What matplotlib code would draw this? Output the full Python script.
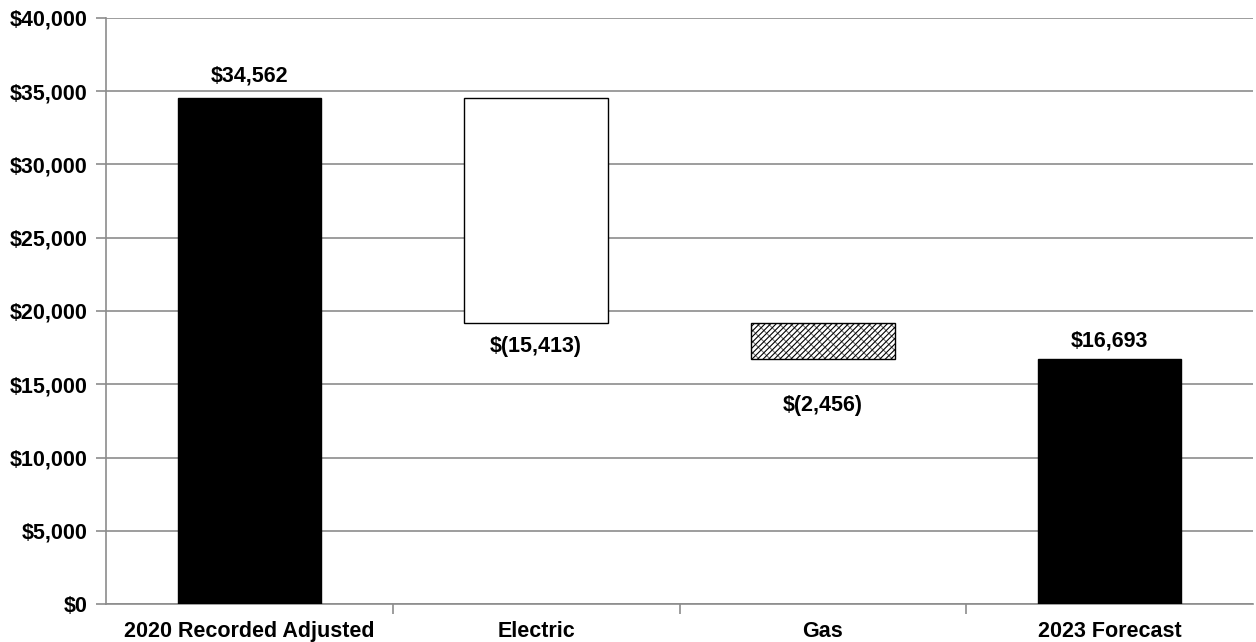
import matplotlib
matplotlib.use("Agg")
import matplotlib.pyplot as plt
from matplotlib.ticker import FuncFormatter, MultipleLocator
import numpy as np

plt.rcParams['font.family'] = ['Liberation Sans', 'DejaVu Sans']
plt.rcParams['hatch.linewidth'] = 0.8

categories = ["2020 Recorded Adjusted", "Electric", "Gas", "2023 Forecast"]
changes = [34562, -15413, -2456, 16693]
kinds = ["total", "delta", "delta", "total"]
labels = ["$34,562", "$(15,413)", "$(2,456)", "$16,693"]
# baseline offset of each value label from its bar edge, in pixels
label_offsets_px = [16, -29, -52, 13]

DPI = 100
fig = plt.figure(figsize=(12.56, 6.42), dpi=DPI)
ax = fig.add_axes([106/1256, 1 - 604/642, (1253-106)/1256, (604-18)/642])

FS = 15.5
x = np.arange(len(categories))
running = 0
for i, (v, k, lab) in enumerate(zip(changes, kinds, labels)):
    if k == "total":
        bottom, height = 0, v
        running = v
        ax.bar(x[i], height, bottom=bottom, width=0.5, color="black",
               edgecolor="black", linewidth=1.0, zorder=3)
    else:
        bottom, height = running + v, -v
        running = running + v
        if i == 1:
            ax.bar(x[i], height, bottom=bottom, width=0.5, color="white",
                   edgecolor="black", linewidth=1.0, zorder=3)
        else:
            ax.bar(x[i], height, bottom=bottom, width=0.5, color="white",
                   edgecolor="#777777", linewidth=0, hatch="\\\\\\", zorder=3)
            ax.bar(x[i], height, bottom=bottom, width=0.5, color="none",
                   edgecolor="black", linewidth=0, hatch="//////", zorder=4)
            ax.bar(x[i], height, bottom=bottom, width=0.5, color="none",
                   edgecolor="black", linewidth=1.0, zorder=5)
    anchor = bottom + height if v >= 0 else bottom
    ax.annotate(lab, (x[i], anchor),
                xytext=(0, label_offsets_px[i] * 72 / DPI),
                textcoords="offset points", ha="center", va="baseline",
                fontsize=FS, fontweight="bold")

ax.set_xlim(-0.5, len(categories) - 0.5)
ax.set_ylim(0, 40000)
ax.yaxis.set_major_locator(MultipleLocator(5000))
ax.yaxis.set_major_formatter(FuncFormatter(lambda v, p: f"${v:,.0f}"))
ax.grid(axis="y", color="#8c8c8c", linewidth=1.2, zorder=0)
ax.set_axisbelow(True)

ax.set_xticks(x)
ax.set_xticklabels(categories, fontsize=FS, fontweight="bold")
ax.tick_params(axis="x", length=0, pad=12)
ax.set_xticks(np.arange(0.5, len(categories) - 1, 1.0), minor=True)
ax.tick_params(axis="x", which="minor", length=7, color="#8c8c8c", width=1.2)
ax.tick_params(axis="y", length=7, color="#8c8c8c", width=1.2, labelsize=FS, pad=6)
for t in ax.get_yticklabels():
    t.set_fontweight("bold")

for s in ["top", "right"]:
    ax.spines[s].set_visible(False)
for s in ["left", "bottom"]:
    ax.spines[s].set_color("#8c8c8c")
    ax.spines[s].set_linewidth(1.2)

fig.savefig("out.png", dpi=DPI)
